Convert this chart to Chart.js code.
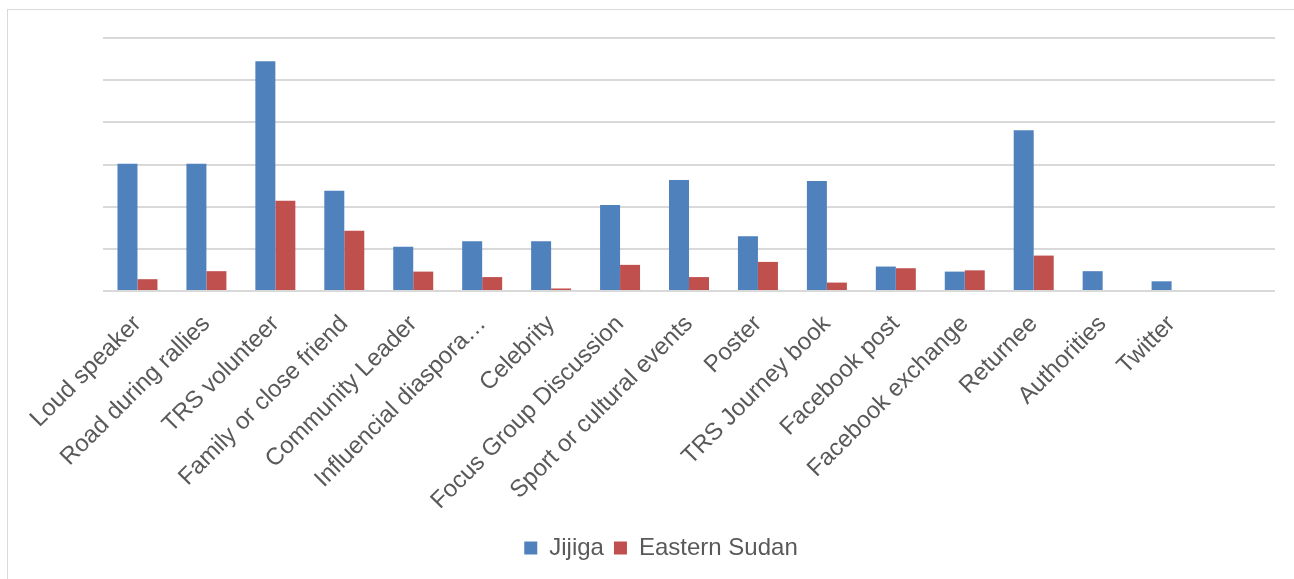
<!DOCTYPE html>
<html>
<head>
<meta charset="utf-8">
<script src="https://cdn.jsdelivr.net/npm/chart.js@4/dist/chart.umd.min.js"></script>
<style>
    body { margin: 0; background: #ffffff; overflow: hidden; }
    #frame {
        position: absolute; left: 7px; top: 9px;
        width: 1320px; height: 600px;
        border: 1px solid #d9d9d9;
    }
    #graph { position: absolute; left: 0; top: 0; }
</style>
</head>
<body>
<div id="frame"><canvas id="graph" width="1306" height="580"></canvas></div>
<script>
// Источники информации (последняя категория пустая)
var categories = [
    'Loud speaker', 'Road during rallies', 'TRS volunteer', 'Family or close friend',
    'Community Leader', 'Influencial diaspora…', 'Celebrity', 'Focus Group Discussion',
    'Sport or cultural events', 'Poster', 'TRS Journey book', 'Facebook post',
    'Facebook exchange', 'Returnee', 'Authorities', 'Twitter', ''
];
var seriesNames = ['Jijiga', 'Eastern Sudan'];
var jijiga = [30.2, 30.2, 54.5, 23.8, 10.5, 11.8, 11.8, 20.4, 26.3, 13.0, 26.1, 5.8, 4.6, 38.1, 4.7, 2.3];
var easternSudan = [2.8, 4.7, 21.4, 14.3, 4.6, 3.3, 0.6, 6.2, 3.3, 6.9, 2.0, 5.4, 4.9, 8.4, 0, 0];
var yTicks = [0, 10, 20, 30, 40, 50, 60];

var textColor = '#595959';
var gridColor = '#d9d9d9';

var ctx = document.getElementById('graph').getContext('2d');

var chart = new Chart(ctx, {
    type: 'bar',
    data: {
        labels: categories,
        datasets: [{
            label: seriesNames[0],
            data: jijiga,
            backgroundColor: '#4f81bd',
            borderWidth: 0
        }, {
            label: seriesNames[1],
            data: easternSudan,
            backgroundColor: '#c0504d',
            borderWidth: 0
        }]
    },
    options: {
        responsive: false,
        animation: false,
        categoryPercentage: 0.58,
        barPercentage: 1.0,
        layout: {
            padding: { left: 0, right: 0, top: 28, bottom: 20 }
        },
        plugins: {
            tooltip: { enabled: false },
            legend: {
                position: 'bottom',
                labels: {
                    color: textColor,
                    font: { family: 'Liberation Sans', size: 24 },
                    boxWidth: 13,
                    boxHeight: 13,
                    padding: 10
                }
            }
        },
        scales: {
            x: {
                grid: { display: false },
                border: { display: false },
                ticks: {
                    color: textColor,
                    font: { family: 'Liberation Sans', size: 24 },
                    minRotation: 45,
                    maxRotation: 45,
                    autoSkip: false,
                    padding: 11
                },
                afterFit: function (scale) { scale.height = 235; }
            },
            y: {
                min: yTicks[0],
                max: yTicks[yTicks.length - 1],
                afterBuildTicks: function (scale) {
                    scale.ticks = yTicks.map(function (v) { return { value: v }; });
                },
                border: { display: false },
                grid: { color: gridColor, lineWidth: 2, drawTicks: false },
                ticks: { display: false },
                afterFit: function (scale) { scale.width = 95; }
            },
            // пустая ось справа — только отступ
            yRight: {
                position: 'right',
                grid: { display: false },
                border: { display: false },
                ticks: { display: false },
                afterFit: function (scale) { scale.width = 39; }
            }
        }
    }
});
</script>
</body>
</html>
